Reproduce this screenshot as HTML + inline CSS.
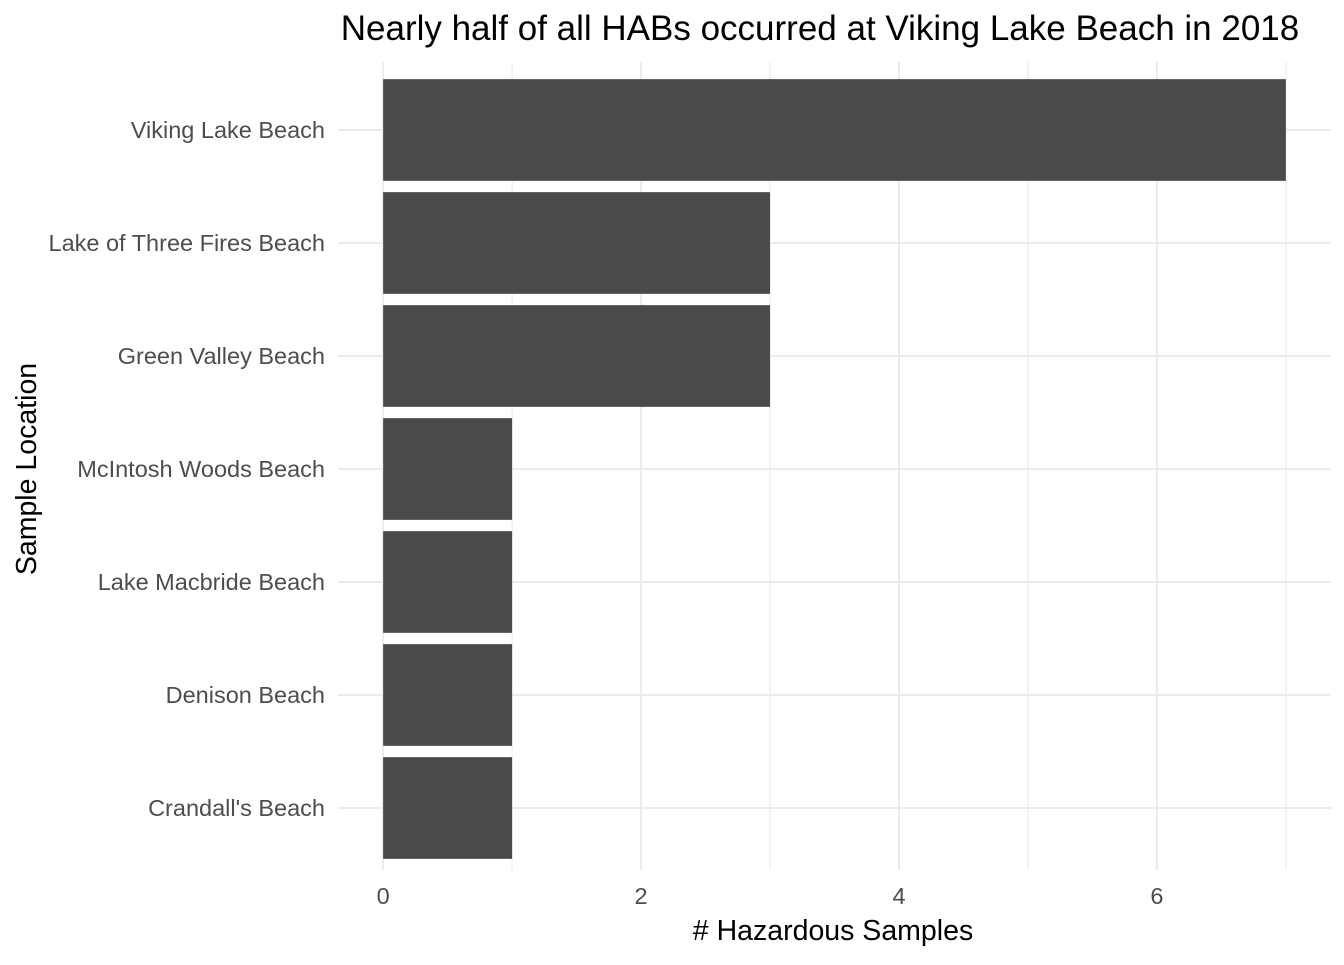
<!DOCTYPE html>
<html><head><meta charset="utf-8"><style>
body{margin:0;background:#fff;font-family:"Liberation Sans",Arial,sans-serif}
</style></head><body>
<svg id="chart" width="1344" height="960" xmlns="http://www.w3.org/2000/svg" font-family="Liberation Sans, Arial, sans-serif">
<text x="820" y="40" font-size="35" text-anchor="middle" fill="#000">Nearly half of all HABs occurred at Viking Lake Beach in 2018</text>
<g id="grid"></g><g id="bars"></g><g id="ylabels"></g><g id="xlabels"></g>
<text x="833" y="940" font-size="28.5" text-anchor="middle" fill="#000"># Hazardous Samples</text>
<text transform="translate(36,469) rotate(-90)" font-size="28.5" text-anchor="middle" fill="#000">Sample Location</text>
</svg>
<script>
const categories=["Viking Lake Beach","Lake of Three Fires Beach","Green Valley Beach","McIntosh Woods Beach","Lake Macbride Beach","Denison Beach","Crandall's Beach"];
const values=[7,3,3,1,1,1,1];
const xTicks=[0,2,4,6];
const xMin=-0.35,xMax=7.35,pL=338,pR=1331,pT=73.5,pB=864.5;
const ns="http://www.w3.org/2000/svg";
const sx=v=>pL+(v-xMin)/(xMax-xMin)*(pR-pL);
const step=(pB-pT)/categories.length;
const sy=i=>pT+step*(i+0.5);
function mk(t,a,p){const e=document.createElementNS(ns,t);for(const k in a)e.setAttribute(k,a[k]);document.getElementById(p).appendChild(e);return e;}
for(let v=0;v<=7;v++){const l=mk('line',{x1:sx(v),x2:sx(v),y1:62,y2:870,stroke:'#ebebeb','stroke-width':v%2?1.2:2},'grid');

}
categories.forEach((c,i)=>{const l=mk('line',{x1:pL,x2:pR,y1:sy(i),y2:sy(i),stroke:'#ebebeb','stroke-width':2},'grid');


const b=mk('rect',{x:sx(0),y:sy(i)-step*0.45,width:sx(values[i])-sx(0),height:step*0.9,fill:'#4a4a4a'},'bars');


const t=mk('text',{x:325,y:sy(i)+8,'font-size':23.5,'text-anchor':'end',fill:'#4d4d4d'},'ylabels');t.textContent=c;

});
xTicks.forEach(v=>{const t=mk('text',{x:sx(v),y:904,'font-size':23.5,'text-anchor':'middle',fill:'#4d4d4d'},'xlabels');t.textContent=v;

});
</script>
</body></html>
